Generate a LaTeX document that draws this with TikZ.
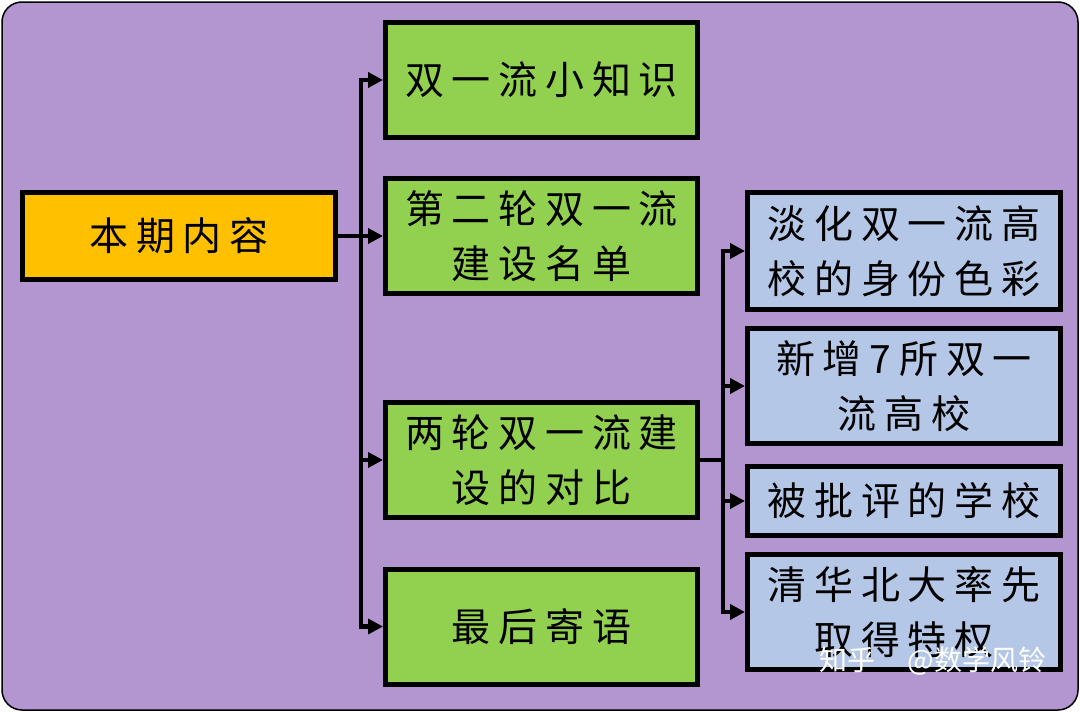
\documentclass[tikz,border=0pt]{standalone}
\usepackage{fontspec}
\newfontfamily\cjk[LetterSpace=20]{Noto Sans CJK SC}
\newfontfamily\wmfont{Noto Sans CJK SC}
\usetikzlibrary{arrows.meta}
\definecolor{bgpurple}{HTML}{B396D0}
\definecolor{rootorange}{HTML}{FFC000}
\definecolor{boxgreen}{HTML}{92D050}
\definecolor{boxblue}{HTML}{B4C7E7}
\tikzset{
  box/.style={draw=black, line width=5pt, align=center, text=black,
    font=\cjk\fontsize{39}{55}\selectfont, inner sep=0pt},
  rootbox/.style={box, fill=rootorange, minimum width=313pt, minimum height=87pt},
  gbox/.style={box, fill=boxgreen, minimum width=312pt, minimum height=115pt},
  bbox/.style={box, fill=boxblue, minimum width=313pt},
  conn/.style={draw=black, line width=4.5pt},
  tip/.tip={Triangle[length=15pt,width=15pt]}
}
\begin{document}
\begin{tikzpicture}[x=1pt,y=-1pt]
\useasboundingbox (0,0) rectangle (1080,712);
\fill[white] (0,0) rectangle (1080,712);
\draw[fill=bgpurple, line width=1.5pt, rounded corners=20pt] (2,2) rectangle (1078,710);

\node[rootbox] (root) at (179,236) {本期内容};
\node[gbox] (g1) at (541.5,80) {双一流小知识};
\node[gbox] (g2) at (541.5,236) {第二轮双一流\\建设名单};
\node[gbox] (g3) at (541.5,460) {两轮双一流建\\设的对比};
\node[gbox] (g4) at (541.5,626.5) {最后寄语};

\node[bbox, minimum height=117pt] (b1) at (904,251) {淡化双一流高\\校的身份色彩};
\node[bbox, minimum height=115pt] (b2) at (904,386) {新增7所双一\\流高校};
\node[bbox, minimum height=69pt] (b3) at (904,501) {被批评的学校};
\node[bbox, minimum height=115pt] (b4) at (904,612) {清华北大率先\\取得特权};

\coordinate (tr) at (361,0);
\coordinate (tr2) at (723,0);

\draw[conn, {tip}-{tip}] (g1.west) -- (g1.west -| tr) -- (g4.west -| tr) -- (g4.west);
\draw[conn, -{tip}] (root.east) -- (g2.west);
\draw[conn, -{tip}] (g3.west -| tr) -- (g3.west);

\draw[conn, {tip}-{tip}] (b1.west) -- (b1.west -| tr2) -- (b4.west -| tr2) -- (b4.west);
\draw[conn] (g3.east) -- (g3.east -| tr2);
\draw[conn, -{tip}] (b2.west -| tr2) -- (b2.west);
\draw[conn, -{tip}] (b3.west -| tr2) -- (b3.west);

\node[text=white, font=\wmfont\fontsize{28}{28}\selectfont, inner sep=0pt] (wm) at (933,661) {知乎\hspace{32pt}@数学风铃};
\end{tikzpicture}
\end{document}
